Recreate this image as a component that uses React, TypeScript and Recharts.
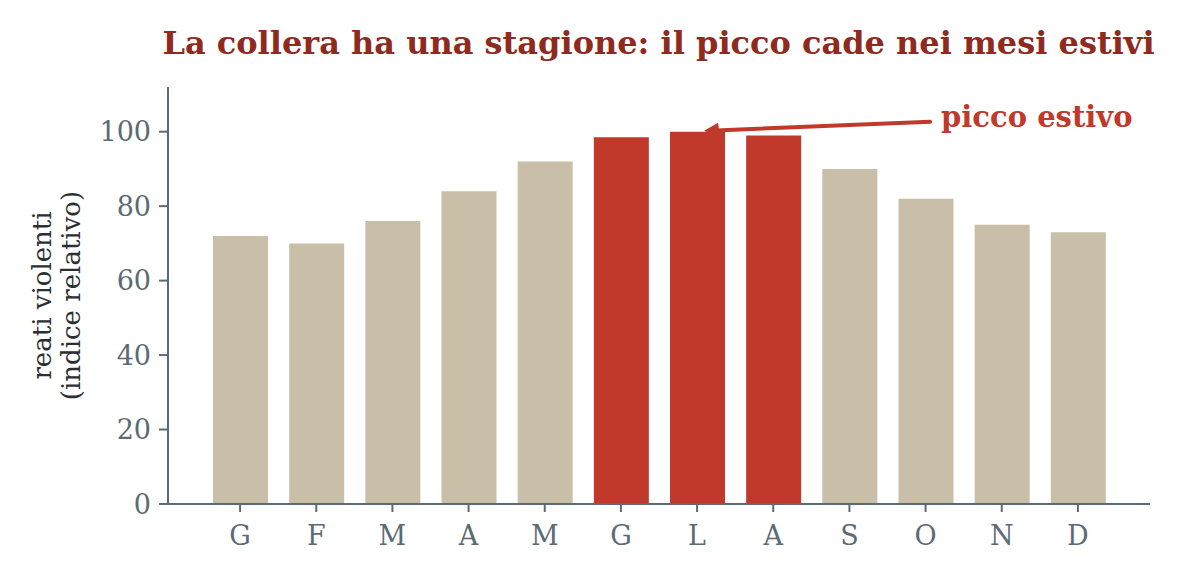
import { Bar, BarChart, Cell, ReferenceDot, XAxis, YAxis } from 'recharts';

const months = ['G', 'F', 'M', 'A', 'M', 'G', 'L', 'A', 'S', 'O', 'N', 'D'];
const crimeIndex = [72, 70, 76, 84, 92, 98.5, 100, 99, 90, 82, 75, 73];
const summerMonths = [5, 6, 7];
const yTicks = [0, 20, 40, 60, 80, 100];

const BEIGE = '#c9bea8';
const RED = '#c0392b';
const AXIS = '#5b6b76';
const FONT = '"DejaVu Serif", serif';

const data = months.map((m, i) => ({ key: `${m}${i}`, label: m, value: crimeIndex[i] }));

function PeakArrow(props: any) {
  const { cx, cy } = props;
  if (cx == null || cy == null) return null;
  const tipX = cx + 7;
  const tipY = cy - 1;
  const tailX = cx + 233;
  const tailY = cy - 10;
  return (
    <g>
      <line x1={tailX} y1={tailY} x2={tipX + 6} y2={tipY} stroke={RED} strokeWidth={4} strokeLinecap="round" />
      <polygon
        points={`${tipX},${tipY} ${tipX + 14},${tipY - 8} ${tipX + 16},${tipY + 7}`}
        fill={RED}
      />
      <text x={tailX + 11} y={tailY + 5} fill={RED} fontFamily={FONT} fontWeight="bold" fontSize={29}>
        picco estivo
      </text>
    </g>
  );
}

function MonthTick(props: any) {
  const { x, y, payload } = props;
  return (
    <text x={x} y={y + 31} textAnchor="middle" fill={AXIS} fontFamily={FONT} fontSize={27}>
      {months[payload.index] ?? payload.value}
    </text>
  );
}

export default function App() {
  return (
    <div style={{ width: 1180, height: 580, background: '#fff', position: 'relative' }}>
      <style>{'body{margin:0}'}</style>
      <div
        style={{
          position: 'absolute',
          left: 0,
          width: 1317,
          top: 23,
          textAlign: 'center',
          fontFamily: FONT,
          fontWeight: 'bold',
          fontSize: 32,
          color: '#8e2a1e',
          lineHeight: '40px',
        }}
      >
        La collera ha una stagione: il picco cade nei mesi estivi
      </div>
      <BarChart
        width={1180}
        height={580}
        data={data}
        margin={{ top: 87, right: 30, bottom: 0, left: 0 }}
        barSize={55}
      >
        <XAxis
          dataKey="key"
          height={76}
          tick={<MonthTick />}
          tickLine={{ stroke: AXIS, strokeWidth: 2 }}
          tickSize={8}
          axisLine={{ stroke: AXIS, strokeWidth: 2 }}
          padding={{ left: 34, right: 34 }}
          interval={0}
        />
        <YAxis
          width={168}
          domain={[0, 112]}
          ticks={yTicks}
          allowDataOverflow
          tick={{ fill: AXIS, fontFamily: FONT, fontSize: 27 }}
          tickLine={{ stroke: AXIS, strokeWidth: 2 }}
          tickSize={9}
          tickMargin={8}
          axisLine={{ stroke: AXIS, strokeWidth: 2 }}
          label={({ viewBox }: any) => {
            const cx = 56;
            const cy = viewBox.y + viewBox.height / 2;
            return (
              <text
                transform={`rotate(-90, ${cx}, ${cy})`}
                x={cx}
                y={cy}
                textAnchor="middle"
                fill="#2b2f33"
                fontFamily={FONT}
                fontSize={26}
              >
                <tspan x={cx} dy={-5}>reati violenti</tspan>
                <tspan x={cx} dy={29}>(indice relativo)</tspan>
              </text>
            );
          }}
        />
        <Bar dataKey="value" isAnimationActive={false}>
          {data.map((d, i) => (
            <Cell key={d.key} fill={summerMonths.includes(i) ? RED : BEIGE} />
          ))}
        </Bar>
        <ReferenceDot x={data[6].key} y={crimeIndex[6]} shape={<PeakArrow />} />
      </BarChart>
    </div>
  );
}
